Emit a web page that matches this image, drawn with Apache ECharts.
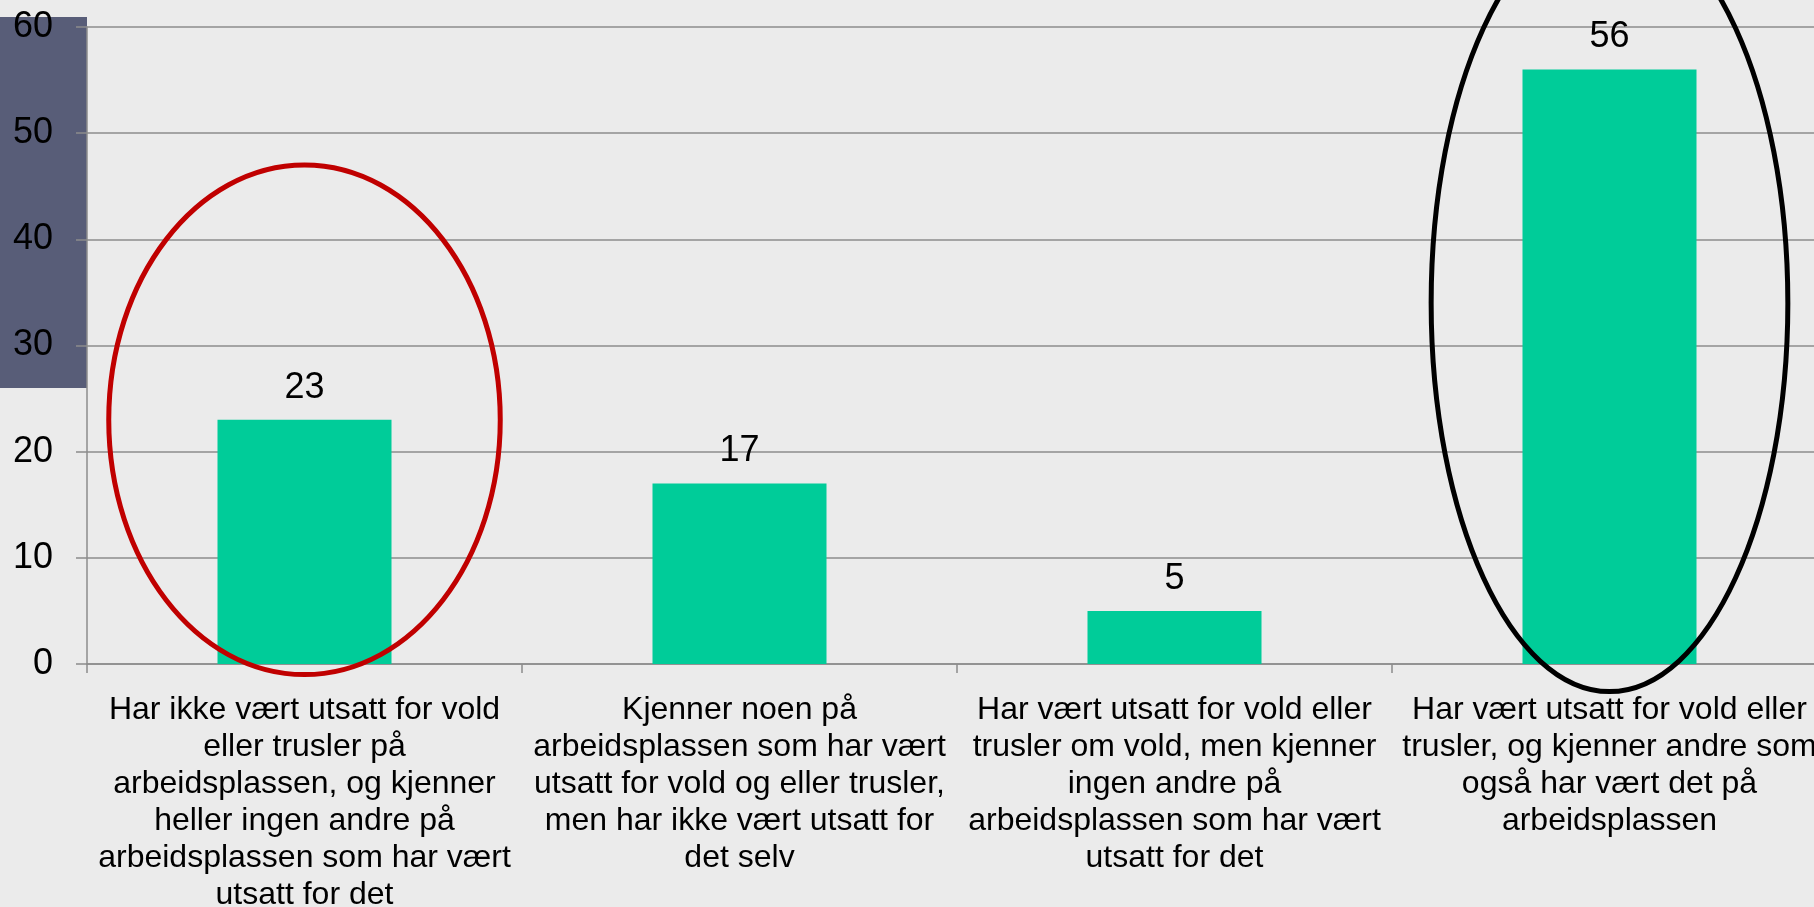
<!DOCTYPE html>
<html style="height: 100%">
    <head>
        <meta charset="utf-8">
        <title>Vold og trusler på arbeidsplassen</title>
        <script type="text/javascript" src="https://cdn.jsdelivr.net/npm/echarts@6/dist/echarts.min.js"></script>
    </head>
    <body style="height: 100%; margin: 0; background: #ebebeb">
        <div id="container" style="width: 1814px; height: 907px"></div>
        <script type="text/javascript">

        // data
        var categories = [
            'Har ikke vært utsatt for vold\neller trusler på\narbeidsplassen, og kjenner\nheller ingen andre på\narbeidsplassen som har vært\nutsatt for det',
            'Kjenner noen på\narbeidsplassen som har vært\nutsatt for vold og eller trusler,\nmen har ikke vært utsatt for\ndet selv',
            'Har vært utsatt for vold eller\ntrusler om vold, men kjenner\ningen andre på\narbeidsplassen som har vært\nutsatt for det',
            'Har vært utsatt for vold eller\ntrusler, og kjenner andre som\nogså har vært det på\narbeidsplassen'
        ];
        var values = [23, 17, 5, 56];
        var yTicks = [0, 10, 20, 30, 40, 50, 60];

        // highlight rings: centre (category index, value), half width in categories, half height in value units
        var rings = [
            { cat: 0, value: 23, halfCat: 0.45, halfValue: 24, color: '#c00000' },
            { cat: 3, value: 34, halfCat: 0.41, halfValue: 36.6, color: '#000000' }
        ];

        var font = 'Liberation Sans, Arial, sans-serif';
        var dom = document.getElementById('container');
        var myChart = echarts.init(dom);

        var option = {
            backgroundColor: '#ebebeb',
            animation: false,
            grid: {
                left: 87,
                top: 27,
                bottom: 243,
                right: -13,
                outerBoundsMode: 'none',
                containLabel: false
            },
            xAxis: {
                type: 'category',
                data: categories,
                axisLine: { lineStyle: { color: '#8c8c8c', width: 1.5 } },
                axisTick: { show: true, length: 9, lineStyle: { color: '#8c8c8c', width: 1.5 } },
                axisLabel: {
                    interval: 0,
                    color: '#000',
                    fontFamily: font,
                    fontSize: 32,
                    lineHeight: 37,
                    margin: 28,
                    align: 'center',
                    hideOverlap: false
                }
            },
            yAxis: {
                type: 'value',
                min: yTicks[0],
                max: yTicks[yTicks.length - 1],
                interval: 10,
                axisLine: { show: true, lineStyle: { color: '#8c8c8c', width: 1.5 } },
                axisTick: { show: true, length: 11, lineStyle: { color: '#8c8c8c', width: 1.5 } },
                splitLine: { lineStyle: { color: '#8c8c8c', width: 1.5 } },
                axisLabel: {
                    color: '#000',
                    fontFamily: font,
                    fontSize: 36,
                    margin: 34
                }
            },
            series: [{
                type: 'bar',
                data: values,
                barWidth: '40%',
                itemStyle: { color: '#00cc99' },
                label: {
                    show: true,
                    position: 'top',
                    distance: 14,
                    color: '#000',
                    fontFamily: font,
                    fontSize: 36
                }
            }]
        };
        myChart.setOption(option);

        // dark band behind the upper y labels + the two rings, placed via the axes
        var graphics = [{
            type: 'rect',
            z: -10,
            silent: true,
            shape: { x: 0, y: 17, width: 87, height: 371 },
            style: { fill: '#585d78' }
        }];
        rings.forEach(function (r) {
            var c = myChart.convertToPixel({ gridIndex: 0 }, [r.cat, r.value]);
            var right = myChart.convertToPixel({ gridIndex: 0 }, [r.cat + 1, r.value]);
            var catWidth = right[0] - c[0];
            var up = myChart.convertToPixel({ gridIndex: 0 }, [r.cat, r.value + r.halfValue]);
            graphics.push({
                type: 'ellipse',
                z: 100,
                silent: true,
                shape: { cx: c[0], cy: c[1], rx: r.halfCat * catWidth, ry: c[1] - up[1] },
                style: { fill: null, stroke: r.color, lineWidth: 5 }
            });
        });
        myChart.setOption({ graphic: graphics });

        </script>
    </body>
</html>
